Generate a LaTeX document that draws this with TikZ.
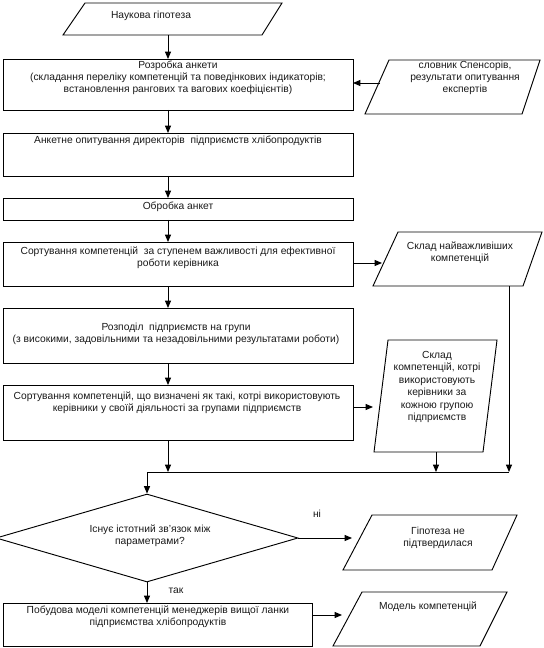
\documentclass[tikz,border=0pt]{standalone}
\usepackage{fontspec}
\setmainfont{Liberation Sans}
\usetikzlibrary{arrows.meta,shapes.geometric}
\begin{document}
\begin{tikzpicture}[x=0.75pt,y=-0.75pt,
  line/.style={draw=black, line width=0.7pt},
  arr/.style={line, -{Triangle[length=5.5pt,width=4.5pt]}},
  box/.style={draw=black, line width=0.7pt, anchor=north west, inner sep=0pt, outer sep=0pt},
  io/.style={draw=black, line width=0.7pt, line join=miter},
  txt/.style={font=\fontsize{7.7}{9}\selectfont, align=center, inner sep=0pt, text=black!90}]

\useasboundingbox (0,0) rectangle (543,648);

% column helper
\coordinate (colx) at (168,0);

% rectangles
\node[box, minimum width=262.5pt, minimum height=38.25pt] (b2) at (3,59) {};
\node[box, minimum width=262.5pt, minimum height=32.25pt] (b3) at (3,133) {};
\node[box, minimum width=262.5pt, minimum height=16.5pt] (b4) at (3,198) {};
\node[box, minimum width=262.5pt, minimum height=33pt] (b5) at (3,242) {};
\node[box, minimum width=262.5pt, minimum height=41.25pt] (b6) at (3,308) {};
\node[box, minimum width=262.5pt, minimum height=41.25pt] (b7) at (3,385) {};
\node[box, minimum width=231.75pt, minimum height=32.25pt] (b8) at (3,603) {};

% decision
\node[diamond, draw=black, line width=0.7pt, inner sep=0pt, minimum width=226.5pt, minimum height=66pt] (d) at (147,538) {};

% parallelograms (input / output)
\draw[io] (85,3) -- (282,3) -- (262,35) -- (63,35) -- cycle;
\draw[io] (389,60) -- (540,60) -- (522,114) -- (365,114) -- cycle;
\draw[io] (398,232) -- (542,232) -- (523,286) -- (373,286) -- cycle;
\draw[io] (388,340) -- (497,340) -- (483,452) -- (374,452) -- cycle;
\draw[io] (372,515) -- (517,515) -- (492,570) -- (343,570) -- cycle;
\draw[io] (362,592) -- (507,592) -- (480,646) -- (333,646) -- cycle;

% texts
\node[txt] (t1) at (151,16) {Наукова гіпотеза};
\node[txt] (t2) at (178,78) {Розробка анкети\\(складання переліку компетенцій та поведінкових індикаторів;\\встановлення рангових та вагових коефіцієнтів)};
\node[txt] (tp2) at (465,78) {словник Спенсорів,\\результати опитування\\експертів};
\node[txt] (t3) at (178,141) {Анкетне опитування директорів~ підприємств хлібопродуктів};
\node[txt] (t4) at (178,207) {Обробка анкет};
\node[txt] (t5) at (178,257.5) {Сортування компетенцій~ за ступенем важливості для ефективної\\роботи керівника};
\node[txt] (tp3) at (460,253) {Склад найважливіших\\компетенцій};
\node[txt] (t6) at (176,334) {Розподіл~ підприємств на групи\\(з високими, задовільними та незадовільними результатами роботи)};
\node[txt] (t7) at (177,403) {Сортування компетенцій, що визначені як такі, котрі використовують\\керівники у своїй діяльності за групами підприємств};
\node[txt, font=\fontsize{7.7}{9.3}\selectfont] (tp4) at (437,387) {Склад\\компетенцій, котрі\\використовують\\керівники за\\кожною групою\\підприємств};
\node[txt] (td) at (150,536) {Існує істотний зв'язок між\\параметрами?};
\node[txt] (tni) at (317,514) {ні};
\node[txt] (ttak) at (176,591) {так};
\node[txt] (tp5) at (438,538) {Гіпотеза не\\підтвердилася};
\node[txt] (t8) at (158,616.5) {Побудова моделі компетенцій менеджерів вищої ланки\\підприємства хлібопродуктів};
\node[txt] (tp6) at (428,607) {Модель компетенцій};

% connector end points on parallelograms and join line
\coordinate (p1s) at (168,35);
\coordinate (p2w) at (380,83);
\coordinate (p3w) at (382,263);
\coordinate (p3s) at (509,286);
\coordinate (p4w) at (373,407);
\coordinate (p4s) at (436,452);
\coordinate (jl) at (147,472);
\coordinate (jr) at (509,472);
\coordinate (p5w) at (352,538);
\coordinate (p6w) at (342,615);

% connectors
\draw[arr] (p1s) -- (b2.north -| p1s);
\draw[arr] (p2w) -- (p2w -| b2.east);
\draw[arr] (b2.south -| colx) -- (b3.north -| colx);
\draw[arr] (b3.south -| colx) -- (b4.north -| colx);
\draw[arr] (b4.south -| colx) -- (b5.north -| colx);
\draw[arr] (p3w -| b5.east) -- (p3w);
\draw[arr] (b5.south -| colx) -- (b6.north -| colx);
\draw[arr] (b6.south -| colx) -- (b7.north -| colx);
\draw[arr] (p4w -| b7.east) -- (p4w);
\draw[arr] (b7.south -| colx) -- (colx |- jl);
\draw[arr] (p4s) -- (p4s |- jl);
\draw[arr] (p3s) -- (jr);
\draw[line] (jl) -- (jr);
\draw[arr] (jl) -- (d.north);
\draw[arr] (d.east) -- (p5w);
\draw[arr] (d.south) -- (d.south |- b8.north);
\draw[arr] (p6w -| b8.east) -- (p6w);
\end{tikzpicture}
\end{document}
